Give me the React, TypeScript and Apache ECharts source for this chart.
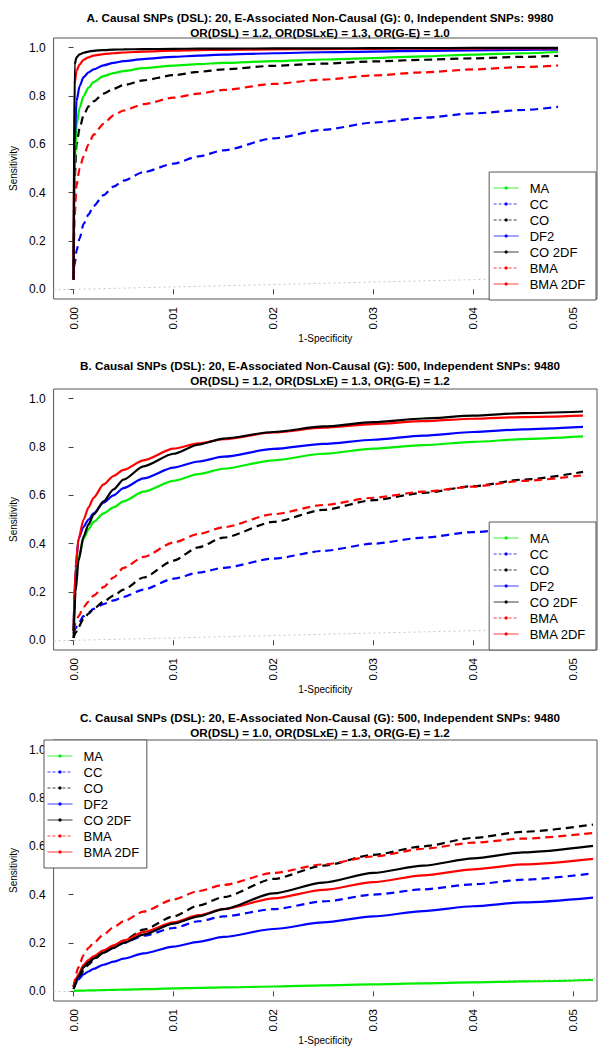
import React, { useEffect, useRef } from "react";
import * as echarts from "echarts";

// ---------- data ----------
const seriesNames = ["MA", "CC", "CO", "DF2", "CO 2DF", "BMA", "BMA 2DF"];
const seriesColors = ["#00ee00", "#0000ff", "#000000", "#0000ff", "#000000", "#ff0000", "#ff0000"];
const seriesDashed = [false, true, true, false, false, true, false];

const titlesA = ["A. Causal SNPs (DSL): 20, E-Associated Non-Causal (G): 0, Independent SNPs: 9980", "OR(DSL) = 1.2, OR(DSLxE) = 1.3, OR(G-E) = 1.0"];
const titlesB = ["B. Causal SNPs (DSL): 20, E-Associated Non-Causal (G): 500, Independent SNPs: 9480", "OR(DSL) = 1.2, OR(DSLxE) = 1.3, OR(G-E) = 1.2"];
const titlesC = ["C. Causal SNPs (DSL): 20, E-Associated Non-Causal (G): 500, Independent SNPs: 9480", "OR(DSL) = 1.0, OR(DSLxE) = 1.3, OR(G-E) = 1.2"];

const xTicks = [0, 0.01, 0.02, 0.03, 0.04, 0.05];
const yTicks = [0, 0.2, 0.4, 0.6, 0.8, 1.0];

// Panel A
const xA = [0, 0.0001, 0.0003, 0.0006, 0.001, 0.0015, 0.002, 0.003, 0.004, 0.005, 0.007, 0.01, 0.0125, 0.015, 0.02, 0.025, 0.03, 0.035, 0.04, 0.045, 0.0485];
const aMA = [0.04, 0.5, 0.68, 0.75, 0.8, 0.835, 0.858, 0.882, 0.895, 0.903, 0.915, 0.926, 0.932, 0.937, 0.944, 0.951, 0.957, 0.964, 0.971, 0.977, 0.982];
const aCC = [0.04, 0.1, 0.16, 0.21, 0.27, 0.31, 0.345, 0.39, 0.425, 0.45, 0.485, 0.52, 0.55, 0.575, 0.625, 0.66, 0.69, 0.71, 0.728, 0.742, 0.755];
const aCO = [0.04, 0.45, 0.6, 0.665, 0.72, 0.757, 0.778, 0.81, 0.83, 0.845, 0.865, 0.886, 0.9, 0.91, 0.925, 0.934, 0.943, 0.95, 0.956, 0.962, 0.966];
const aDF2 = [0.04, 0.6, 0.78, 0.84, 0.878, 0.898, 0.91, 0.927, 0.937, 0.944, 0.953, 0.962, 0.967, 0.971, 0.977, 0.981, 0.984, 0.987, 0.989, 0.991, 0.992];
const aCO2DF = [0.04, 0.93, 0.96, 0.972, 0.979, 0.984, 0.987, 0.99, 0.992, 0.993, 0.994, 0.995, 0.996, 0.996, 0.997, 0.997, 0.998, 0.998, 0.999, 0.999, 0.999];
const aBMA = [0.04, 0.3, 0.43, 0.5, 0.55, 0.6, 0.64, 0.685, 0.72, 0.74, 0.766, 0.793, 0.81, 0.825, 0.85, 0.868, 0.885, 0.898, 0.91, 0.92, 0.926];
const aBMA2DF = [0.04, 0.85, 0.905, 0.93, 0.95, 0.96, 0.967, 0.973, 0.977, 0.98, 0.984, 0.988, 0.99, 0.991, 0.993, 0.994, 0.995, 0.996, 0.996, 0.997, 0.997];

// Panel B
const xB = [0, 0.0002, 0.0005, 0.001, 0.0015, 0.002, 0.003, 0.004, 0.005, 0.007, 0.01, 0.0125, 0.015, 0.02, 0.025, 0.03, 0.035, 0.04, 0.045, 0.051];
const bMA = [0.04, 0.25, 0.34, 0.42, 0.46, 0.49, 0.525, 0.55, 0.575, 0.615, 0.66, 0.688, 0.71, 0.745, 0.772, 0.793, 0.808, 0.821, 0.833, 0.844];
const bCC = [0.03, 0.05, 0.07, 0.1, 0.115, 0.13, 0.15, 0.165, 0.18, 0.21, 0.255, 0.28, 0.3, 0.338, 0.37, 0.4, 0.425, 0.448, 0.465, 0.48];
const bCO = [0.01, 0.03, 0.055, 0.09, 0.11, 0.13, 0.16, 0.185, 0.21, 0.26, 0.33, 0.385, 0.425, 0.49, 0.54, 0.58, 0.61, 0.638, 0.665, 0.697];
const bDF2 = [0.04, 0.3, 0.42, 0.47, 0.5, 0.525, 0.57, 0.6, 0.63, 0.67, 0.715, 0.74, 0.76, 0.792, 0.813, 0.83, 0.847, 0.862, 0.873, 0.883];
const bCO2DF = [0.01, 0.2, 0.33, 0.43, 0.48, 0.52, 0.575, 0.625, 0.665, 0.72, 0.772, 0.81, 0.835, 0.862, 0.885, 0.903, 0.918, 0.93, 0.94, 0.947];
const bBMA = [0.04, 0.07, 0.1, 0.138, 0.16, 0.185, 0.22, 0.26, 0.3, 0.345, 0.405, 0.44, 0.468, 0.522, 0.56, 0.59, 0.615, 0.636, 0.66, 0.683];
const bBMA2DF = [0.04, 0.3, 0.42, 0.5, 0.55, 0.59, 0.645, 0.68, 0.705, 0.745, 0.793, 0.815, 0.832, 0.86, 0.88, 0.895, 0.907, 0.917, 0.924, 0.93];

// Panel C
const xC = [0, 0.0005, 0.001, 0.0015, 0.002, 0.003, 0.004, 0.005, 0.007, 0.01, 0.0125, 0.015, 0.02, 0.025, 0.03, 0.035, 0.04, 0.045, 0.052];
const cMA = [0.002, 0.003, 0.003, 0.004, 0.004, 0.005, 0.006, 0.007, 0.009, 0.012, 0.014, 0.016, 0.02, 0.025, 0.029, 0.033, 0.037, 0.041, 0.047];
const cCC = [0.02, 0.06, 0.1, 0.12, 0.135, 0.16, 0.18, 0.2, 0.23, 0.262, 0.29, 0.31, 0.34, 0.372, 0.4, 0.422, 0.443, 0.462, 0.488];
const cCO = [0.01, 0.05, 0.085, 0.11, 0.13, 0.16, 0.185, 0.21, 0.255, 0.31, 0.355, 0.39, 0.465, 0.52, 0.565, 0.6, 0.635, 0.66, 0.69];
const cDF2 = [0.017, 0.05, 0.07, 0.082, 0.093, 0.11, 0.123, 0.135, 0.157, 0.185, 0.205, 0.225, 0.258, 0.285, 0.31, 0.332, 0.352, 0.368, 0.388];
const cCO2DF = [0.01, 0.06, 0.1, 0.12, 0.135, 0.16, 0.18, 0.2, 0.235, 0.28, 0.31, 0.34, 0.405, 0.45, 0.49, 0.52, 0.55, 0.575, 0.602];
const cBMA = [0.02, 0.1, 0.15, 0.18, 0.2, 0.235, 0.265, 0.29, 0.33, 0.38, 0.415, 0.44, 0.49, 0.525, 0.558, 0.59, 0.615, 0.632, 0.655];
const cBMA2DF = [0.02, 0.07, 0.11, 0.13, 0.145, 0.17, 0.19, 0.21, 0.245, 0.285, 0.315, 0.34, 0.385, 0.42, 0.452, 0.48, 0.505, 0.525, 0.548];

const diagX = [-0.002, 0.0524];

const panels = [
  { x: xA, ys: [aMA, aCC, aCO, aDF2, aCO2DF, aBMA, aBMA2DF], titles: titlesA },
  { x: xB, ys: [bMA, bCC, bCO, bDF2, bCO2DF, bBMA, bBMA2DF], titles: titlesB },
  { x: xC, ys: [cMA, cCC, cCO, cDF2, cCO2DF, cBMA, cBMA2DF], titles: titlesC },
];

const FONT = "'Liberation Sans', Arial, sans-serif";

export default function App() {
  const ref = useRef<HTMLDivElement>(null);
  useEffect(() => {
    if (!ref.current) return;
    const chart = echarts.init(ref.current, undefined, { renderer: "svg" });

    const gridTops = [38, 389, 740];
    const gridH = 261;
    const grids = gridTops.map((t) => ({
      left: 44,
      top: t,
      width: 553,
      height: gridH,
      show: true,
      borderColor: "#555",
      borderWidth: 1,
      backgroundColor: "transparent",
    }));

    const xAxes = gridTops.map((_, i) => ({
      type: "value",
      gridIndex: i,
      min: -0.002,
      max: 0.0524,
      name: "1-Specificity",
      nameLocation: "middle",
      nameGap: 22,
      nameTextStyle: { fontSize: 10, color: "#000", fontFamily: FONT },
      axisLine: { show: false },
      splitLine: { show: false },
      axisTick: { show: true, length: 5, customValues: xTicks, lineStyle: { color: "#444" } },
      axisLabel: {
        customValues: xTicks,
        rotate: 90,
        margin: 8,
        fontSize: 11.5,
        color: "#000",
        fontFamily: FONT,
        formatter: (v: number) => v.toFixed(2),
      },
    }));

    const yAxes = gridTops.map((_, i) => ({
      type: "value",
      gridIndex: i,
      min: -0.04,
      max: 1.04,
      name: "Sensitivity",
      nameLocation: "middle",
      nameGap: 23,
      nameTextStyle: { fontSize: 10, color: "#000", fontFamily: FONT },
      axisLine: { show: false },
      splitLine: { show: false },
      axisTick: { show: true, length: 5, customValues: yTicks, lineStyle: { color: "#444" } },
      axisLabel: {
        customValues: yTicks,
        margin: 8,
        fontSize: 12,
        color: "#000",
        fontFamily: FONT,
        formatter: (v: number) => v.toFixed(1),
      },
    }));

    const series: any[] = [];
    panels.forEach((p, pi) => {
      series.push({
        type: "line",
        name: "diag",
        xAxisIndex: pi,
        yAxisIndex: pi,
        data: diagX.map((v) => [v, v]),
        symbol: "none",
        silent: true,
        lineStyle: { color: "#c8c8c8", width: 1, type: [2, 3] },
        z: 1,
      });
      const order = [1, 2, 5, 0, 3, 6, 4];
      order.forEach((si) => {
        series.push({
          type: "line",
          name: seriesNames[si],
          xAxisIndex: pi,
          yAxisIndex: pi,
          data: p.x.map((xv, k) => [xv, p.ys[si][k]]),
          symbol: "circle",
          symbolSize: 3,
          showSymbol: false,
          smooth: 0.25,
          smoothMonotone: "x",
          color: seriesColors[si],
          lineStyle: {
            color: seriesColors[si],
            width: 2.2,
            type: seriesDashed[si] ? [8, 5] : "solid",
          },
          itemStyle: { color: seriesColors[si] },
        });
      });
    });

    const legendData = seriesNames.map((n, i) => ({
      name: n,
      lineStyle: { width: 1, color: seriesColors[i], opacity: 0.75, type: seriesDashed[i] ? [3, 2] : "solid" },
      itemStyle: { color: seriesColors[i] },
    }));

    const legendCommon = {
      orient: "vertical",
      data: legendData,
      itemWidth: 25,
      itemHeight: 4,
      itemGap: 0,
      backgroundColor: "#fff",
      borderColor: "#555",
      borderWidth: 1,
      borderRadius: 0,
      selectedMode: false,
      lineStyle: { width: 1 },
      textStyle: { fontSize: 13, color: "#000", fontFamily: FONT, lineHeight: 16, padding: [0, 0, 0, 6] },
    };

    const titles: any[] = [];
    const titleTops = [9.5, 358, 710];
    panels.forEach((p, pi) => {
      titles.push({
        text: p.titles.join("\n"),
        left: 320,
        top: titleTops[pi],
        textAlign: "center",
        padding: 0,
        textStyle: { fontSize: 11.7, fontWeight: "bold", color: "#000", fontFamily: FONT, lineHeight: 15 },
      });
    });

    chart.setOption({
      animation: false,
      backgroundColor: "#fff",
      title: titles,
      grid: grids,
      xAxis: xAxes,
      yAxis: yAxes,
      legend: [
        { ...legendCommon, right: 15, top: 172, padding: [8, 10, 8, 4] },
        { ...legendCommon, right: 15, top: 522, padding: [8, 10, 8, 4] },
        { ...legendCommon, left: 44, top: 740, padding: [8, 7, 8, 3] },
      ],
      series,
    });

    return () => chart.dispose();
  }, []);

  return <div ref={ref} style={{ position: "absolute", left: 0, top: 0, width: 611, height: 1050 }} />;
}
